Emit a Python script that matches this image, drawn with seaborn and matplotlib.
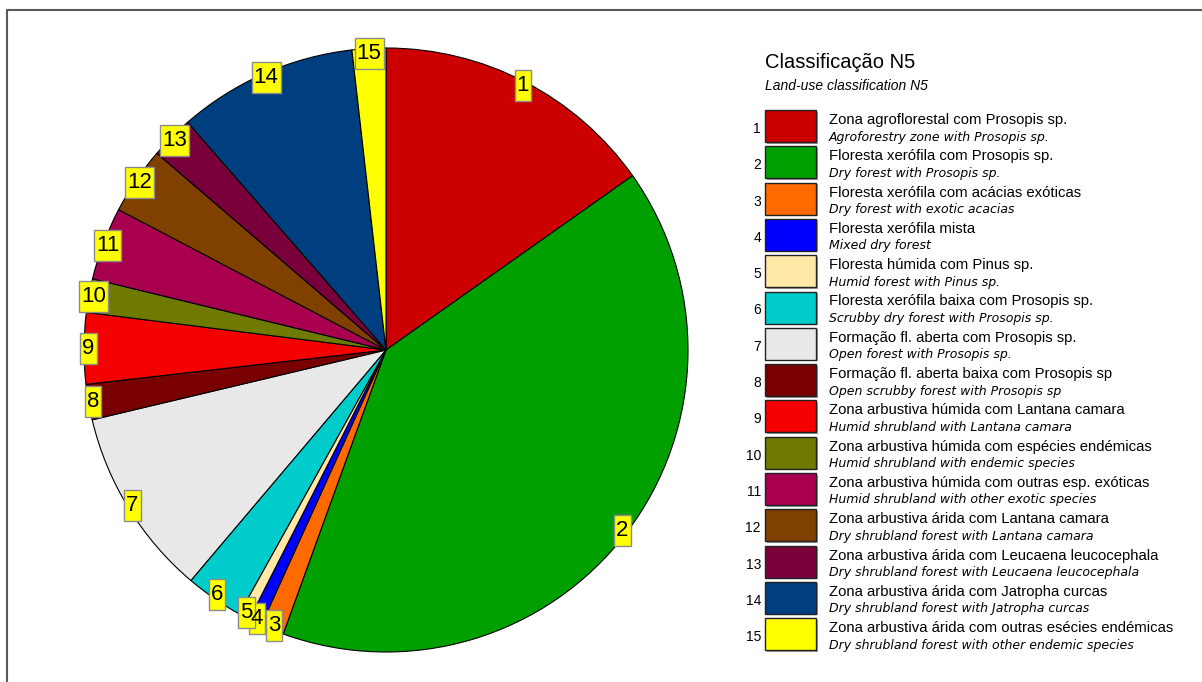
import matplotlib
matplotlib.use("Agg")
import matplotlib.pyplot as plt
import seaborn as sns
import numpy as np
from matplotlib.patches import Rectangle
from matplotlib.lines import Line2D

# dados (percentagem de cada classe)
classes = [str(i) for i in range(1, 16)]
valores = [15.2, 40.3, 1.25, 0.7, 0.6, 3.1, 10.1, 1.9, 3.8, 1.8, 3.9, 3.6, 2.3, 9.6, 1.8]
nomes_pt = [
    "Zona agroflorestal com Prosopis sp.",
    "Floresta xerófila com Prosopis sp.",
    "Floresta xerófila com acácias exóticas",
    "Floresta xerófila mista",
    "Floresta húmida com Pinus sp.",
    "Floresta xerófila baixa com Prosopis sp.",
    "Formação fl. aberta com Prosopis sp.",
    "Formação fl. aberta baixa com Prosopis sp",
    "Zona arbustiva húmida com Lantana camara",
    "Zona arbustiva húmida com espécies endémicas",
    "Zona arbustiva húmida com outras esp. exóticas",
    "Zona arbustiva árida com Lantana camara",
    "Zona arbustiva árida com Leucaena leucocephala",
    "Zona arbustiva árida com Jatropha curcas",
    "Zona arbustiva árida com outras esécies endémicas",
]
nomes_en = [
    "Agroforestry zone with Prosopis sp.",
    "Dry forest with Prosopis sp.",
    "Dry forest with exotic acacias",
    "Mixed dry forest",
    "Humid forest with Pinus sp.",
    "Scrubby dry forest with Prosopis sp.",
    "Open forest with Prosopis sp.",
    "Open scrubby forest with Prosopis sp",
    "Humid shrubland with Lantana camara",
    "Humid shrubland with endemic species",
    "Humid shrubland with other exotic species",
    "Dry shrubland forest with Lantana camara",
    "Dry shrubland forest with Leucaena leucocephala",
    "Dry shrubland forest with Jatropha curcas",
    "Dry shrubland forest with other endemic species",
]
cores = [
    "#cc0000", "#00a000", "#ff6a00", "#0000ff", "#ffe8a8",
    "#00cccc", "#e8e8e8", "#780000", "#f50000", "#6e7b00",
    "#a8004f", "#7f4000", "#7a003c", "#003f7f", "#ffff00",
]

sns.set_theme(style="white")
plt.rcParams['font.family'] = ['Liberation Sans', 'DejaVu Sans']
plt.rcParams['text.color'] = 'black'

W, H = 1202, 682
fig = plt.figure(figsize=(W / 100, H / 100), dpi=100)
fig.patch.set_facecolor("white")

# grafico circular
cx, cy, R = 386, 350, 302
ax = fig.add_axes([(cx - R) / W, (H - cy - R) / H, 2 * R / W, 2 * R / H])
wedges, _ = ax.pie(valores, colors=cores, startangle=90, counterclock=False,
                   wedgeprops=dict(edgecolor="black", linewidth=0.8))
ax.set_xlim(-1, 1)
ax.set_ylim(-1, 1)
ax.set_aspect("equal")
ax.axis("off")

# camada em coordenadas de pixel (etiquetas e legenda)
lg = fig.add_axes([0, 0, 1, 1], facecolor="none")
lg.set_xlim(0, W)
lg.set_ylim(H, 0)
lg.axis("off")

# etiquetas amarelas junto ao bordo
fig.canvas.draw()
renderer = fig.canvas.get_renderer()
to_px = lg.transData.inverted()
for w, lab in zip(wedges, classes):
    ang = np.deg2rad((w.theta1 + w.theta2) / 2)
    disp = ax.transData.transform((0.985 * np.cos(ang), 0.985 * np.sin(ang)))
    px, py = to_px.transform(disp)
    t = lg.text(px, py, lab, ha="center", va="center", fontsize=16,
                color="black", zorder=6)
    bb = t.get_window_extent(renderer)
    bw = bb.width + 4
    lg.add_patch(Rectangle((px - bw / 2, py - 15.5), bw, 31, facecolor="#ffff00",
                           edgecolor="#8c8c8c", linewidth=1, zorder=5))

# moldura (so topo e esquerda)
lg.add_line(Line2D([7, W], [10, 10], color="#5a5a5a", linewidth=1.5))
lg.add_line(Line2D([7, 7], [10, H], color="#5a5a5a", linewidth=1.5))

lg.text(765, 62, "Classificação N5", fontsize=14.5, ha="left", va="center")
lg.text(765, 86, "Land-use classification N5", fontsize=10, style="italic",
        ha="left", va="center")

passo = 36.3
for i, (lab, pt, en, c) in enumerate(zip(classes, nomes_pt, nomes_en, cores)):
    topo = 110 + i * passo
    lg.add_patch(Rectangle((767, topo + 1.5), 51, 32, facecolor="#9a9a9a",
                           edgecolor="none"))
    lg.add_patch(Rectangle((765, topo), 51, 32, facecolor=c,
                           edgecolor="#222222", linewidth=1))
    lg.text(761, topo + 19, lab, fontsize=10, ha="right", va="center")
    lg.text(829, topo + 10, pt, fontsize=10.7, ha="left", va="center")
    lg.text(829, topo + 27, en, fontsize=9, style="italic", ha="left",
            va="center", family="DejaVu Sans")

fig.savefig("out.png", dpi=100, facecolor="white")
